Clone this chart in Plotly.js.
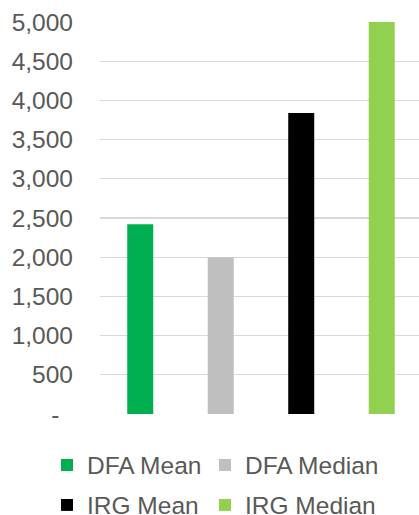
<!DOCTYPE html>
<html>
<head>
<meta charset="utf-8">
<script src="https://cdn.plot.ly/plotly-3.0.1.min.js"></script>
<style>html,body{margin:0;padding:0;background:#fff;}#chart{width:419px;height:515px;}</style>
</head>
<body>
<div id="chart"></div>
<script>
var categories = ['DFA Mean', 'DFA Median', 'IRG Mean', 'IRG Median'];
var values = [2420, 2000, 3840, 5000];
var colors = ['#00B050', '#BFBFBF', '#000000', '#92D050'];
var tickVals = [0, 500, 1000, 1500, 2000, 2500, 3000, 3500, 4000, 4500, 5000];
var tickText = ['-\u00a0\u00a0', '500', '1,000', '1,500', '2,000', '2,500', '3,000', '3,500', '4,000', '4,500', '5,000'];

var legendIds = ['legend', 'legend2', 'legend3', 'legend4'];
var traces = categories.map(function (c, i) {
  return {
    type: 'bar',
    name: c,
    x: [c],
    y: [values[i]],
    width: 0.323,
    marker: {color: colors[i], line: {width: 0}},
    legend: legendIds[i],
    hoverinfo: 'none'
  };
});

var fam = 'Liberation Sans, Arial, sans-serif';
var fsize = 24.5;
var legendFont = {family: fam, size: fsize, color: '#595959'};
// legend entry anchors (px in page): text left edge and row centre
var legX = [88, 246, 88, 246];
var legY = [465, 465, 505, 505];

var layout = {
  width: 419,
  height: 515,
  margin: {l: 100, r: 0, t: 22, b: 101, autoexpand: false},
  paper_bgcolor: '#ffffff',
  plot_bgcolor: '#ffffff',
  barmode: 'overlay',
  font: {family: fam, size: fsize, color: '#595959'},
  xaxis: {
    type: 'category',
    categoryorder: 'array',
    categoryarray: categories,
    range: [-0.5, 3.463],
    showticklabels: false,
    showgrid: false,
    zeroline: false,
    showline: false,
    ticks: ''
  },
  yaxis: {
    range: [0, 5000],
    tickvals: tickVals,
    ticktext: tickText,
    showgrid: true,
    gridcolor: '#D9D9D9',
    gridwidth: 1.3,
    zeroline: false,
    showline: false,
    ticks: '',
    ticklabelstandoff: 26,
    tickfont: {family: fam, size: fsize, color: '#595959'}
  },
  showlegend: true
};

legendIds.forEach(function (id, i) {
  layout[id] = {
    orientation: 'h',
    xref: 'container', yref: 'container',
    x: (legX[i] - 41) / 419, xanchor: 'left',
    y: 1 - legY[i] / 515, yanchor: 'middle',
    font: legendFont,
    bgcolor: 'rgba(0,0,0,0)'
  };
});

Plotly.newPlot('chart', traces, layout, {displayModeBar: false, staticPlot: true});
</script>
</body>
</html>
